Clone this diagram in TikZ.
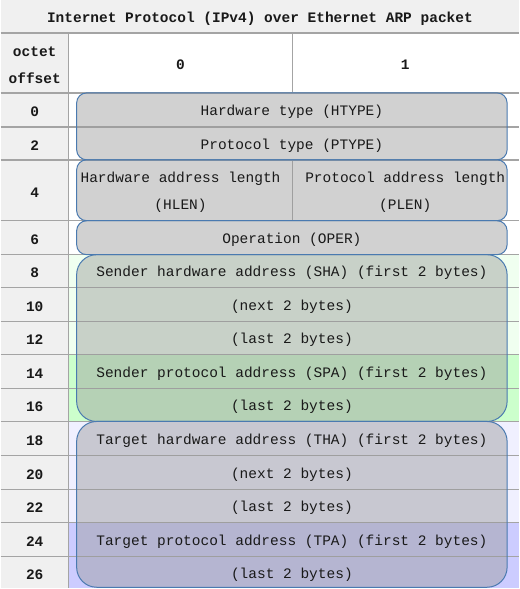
\documentclass[tikz,border=0pt]{standalone}
\usepackage{fontspec}
\setmonofont{Liberation Mono}
\usetikzlibrary{positioning}
\definecolor{tablegray}{HTML}{F0F0F0}
\definecolor{gridline}{HTML}{A4A4A4}
\definecolor{boxedge}{HTML}{4A7AB0}
\definecolor{shalight}{HTML}{F0FFF0}
\definecolor{spagreen}{HTML}{CCFFCC}
\definecolor{thalight}{HTML}{F0F0FF}
\definecolor{tpablue}{HTML}{CCCCFF}
\tikzset {
  % text of a table cell
  cell/.style = {
    font = \ttfamily\fontsize{14.5}{27}\selectfont,
    text = black!90,
    inner sep = 0,
    yshift = -2pt,
    align = center
  },
  % bold header text
  head/.style = {
    cell,
    font = \ttfamily\bfseries\fontsize{14.5}{27}\selectfont
  },
  % line of the table grid
  grid line/.style = {
    draw = gridline,
    line width = 1.5pt
  },
  % rounded frame round a field of the packet
  field/.style = {
    draw = boxedge,
    line width = 1pt,
    fill = black!40,
    fill opacity = 0.45,
    rounded corners = #1
  },
  field/.default = 10pt
}

\begin{document}
\begin{tikzpicture}[x=1pt, y=-1pt]
    % backgrounds
    \fill[white] (0,0) rectangle (519,589);
    \fill[tablegray] (0,0) rectangle (519,33);
    \fill[tablegray] (0,33) rectangle (68,589);
    \fill[shalight] (68,255) rectangle (519,355);
    \fill[spagreen] (68,355) rectangle (519,422);
    \fill[thalight] (68,422) rectangle (519,523);
    \fill[tpablue] (68,523) rectangle (519,589);

    % grid
    \foreach \y in {33,93,127,160,221,255,288,322,355,389,422,456,490,523,557}
      \draw[grid line] (0,\y) -- (519,\y);
    \draw[grid line] (68,33) -- (68,589);
    \draw[grid line] (292,33) -- (292,93);
    \draw[grid line] (292,160) -- (292,221);

    % fields
    \draw[field] (76,93) rectangle (507,160);
    \draw[field] (76,160) rectangle (507,221);
    \draw[field] (76,221) rectangle (507,255);
    \draw[field=20pt] (76,255) rectangle (507,422);
    \draw[field=20pt] (76,422) rectangle (507,588);

    % headers
    \node[head] (title) at (259.5,16.5) {Internet Protocol (IPv4) over Ethernet ARP packet};
    \node[head] (octet) at (34,63) {octet\\offset};
    \node[head] (byte0) at (180,63) {0};
    \node[head] (byte1) at (405,63) {1};
    \foreach \off/\y in {0/110,2/143.5,4/190.5,6/238,8/271.5,10/305,12/338.5,
      14/372,16/405.5,18/439,20/473,22/506.5,24/540,26/573}
      \node[head] (off-\off) at (34,\y) {\off};

    \node[cell] (htype) at (291.5,110) {Hardware type (HTYPE)};
    \node[cell] (ptype) at (291.5,143.5) {Protocol type (PTYPE)};
    \node[cell] (hlen) at (180,190.5) {Hardware address length\\(HLEN)};
    \node[cell] (plen) at (405,190.5) {Protocol address length\\(PLEN)};
    \node[cell] (oper) at (291.5,238) {Operation (OPER)};
    \node[cell] (sha) at (291.5,271.5) {Sender hardware address (SHA) (first 2 bytes)};
    \node[cell] (sha-next) at (291.5,305) {(next 2 bytes)};
    \node[cell] (sha-last) at (291.5,338.5) {(last 2 bytes)};
    \node[cell] (spa) at (291.5,372) {Sender protocol address (SPA) (first 2 bytes)};
    \node[cell] (spa-last) at (291.5,405.5) {(last 2 bytes)};
    \node[cell] (tha) at (291.5,439) {Target hardware address (THA) (first 2 bytes)};
    \node[cell] (tha-next) at (291.5,473) {(next 2 bytes)};
    \node[cell] (tha-last) at (291.5,506.5) {(last 2 bytes)};
    \node[cell] (tpa) at (291.5,540) {Target protocol address (TPA) (first 2 bytes)};
    \node[cell] (tpa-last) at (291.5,573) {(last 2 bytes)};
\end{tikzpicture}
\end{document}
